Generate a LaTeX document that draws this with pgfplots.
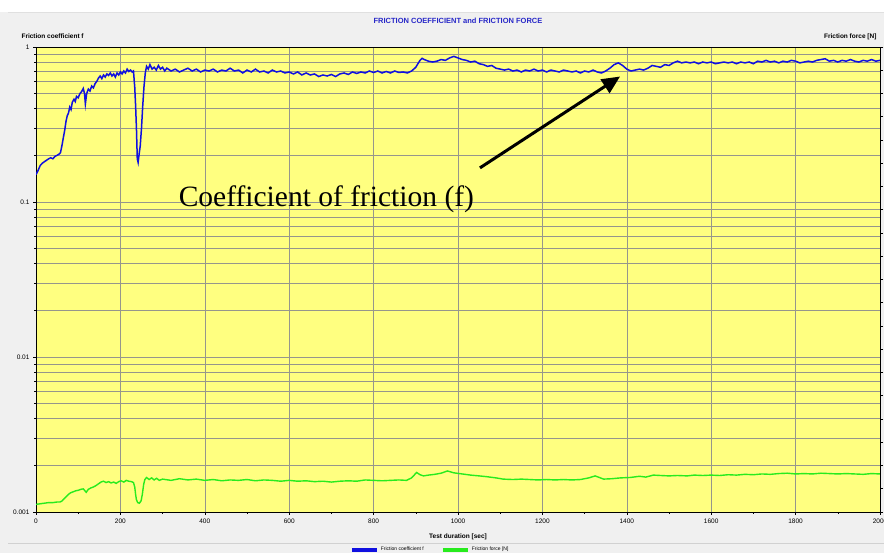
\documentclass[border=0pt]{standalone}
\usepackage{pgfplots}
\pgfplotsset{compat=1.18}
\usepackage{fontspec}
\setmainfont{Liberation Sans}
\newfontfamily\timesfont{Liberation Serif}
\usetikzlibrary{arrows.meta}

\definecolor{plotbg}{RGB}{255,255,128}
\definecolor{panel}{RGB}{240,240,240}
\definecolor{fblue}{RGB}{16,16,224}
\definecolor{fgreen}{RGB}{40,235,30}
\definecolor{titleblue}{RGB}{40,40,200}
\definecolor{gridc}{RGB}{150,150,140}

\begin{document}
\begin{tikzpicture}
% page = 884 x 553, axis box = 844 x 465
\path[use as bounding box] (-36pt,-41pt) rectangle (848pt,512pt);
\fill[panel] (-36pt,-41pt) rectangle (848pt,512pt);
\fill[white] (-36pt,500pt) rectangle (848pt,512pt);
\draw[black!12] (-28pt,500pt) -- (848pt,500pt);
\draw[black!18] (-28pt,-31pt) -- (848pt,-31pt);

\begin{axis}[
  at={(0pt,0pt)}, anchor=south west,
  scale only axis, width=844pt, height=465pt,
  xmin=0, xmax=2000,
  ymode=log, ymin=0.001, ymax=1,
  xtick={0,200,...,2000},
  minor xtick={100,300,...,1900},
  ytick={0.001,0.01,0.1,1},
  yticklabels={0.001,0.01,0.1,1},
  minor ytick={0.002,0.003,0.004,0.005,0.006,0.007,0.008,0.009,
               0.02,0.03,0.04,0.05,0.06,0.07,0.08,0.09,
               0.2,0.3,0.4,0.5,0.6,0.7,0.8,0.9},
  xtick pos=bottom, ytick pos=left,
  tick align=outside,
  major tick length=3pt, minor tick length=2pt,
  tick style={black, line width=0.6pt},
  xmajorgrids, ymajorgrids, yminorgrids,
  major grid style={gridc, line width=0.6pt},
  minor grid style={gridc, line width=0.6pt},
  axis line style={black, line width=0.8pt},
  axis background/.style={fill=plotbg},
  tick label style={font=\fontsize{6.5}{7}\selectfont},
  /pgf/number format/assume math mode=true,
  /pgf/number format/1000 sep={},
  title={FRICTION COEFFICIENT and FRICTION FORCE},
  title style={at={(0.5,1)}, anchor=base, yshift=17pt,
               font=\bfseries\fontsize{7.5}{8}\selectfont, text=titleblue},
  xlabel={Test duration [sec]},
  xlabel style={at={(0.5,0)}, anchor=base, yshift=-26pt,
                font=\bfseries\fontsize{6.5}{7}\selectfont},
  legend style={at={(0.467,-0.069)}, anchor=north, legend columns=2,
                draw=none, fill=none, font=\fontsize{5}{6}\selectfont,
                inner sep=1pt,
                /tikz/every even column/.append style={column sep=15pt}},
  legend cell align=left,
  legend image code/.code={\draw[#1, line width=4pt] (0pt,0pt) -- (25pt,0pt);},
]
\addplot[fblue, line width=1.5pt] coordinates {
(0,0.150) (5,0.160) (10,0.172) (15,0.178) (20,0.182) (25,0.186) (30,0.190)
(35,0.193) (40,0.190) (45,0.197) (50,0.200) (55,0.204) (58,0.208) (62,0.235)
(65,0.262) (68,0.290) (71,0.330) (74,0.360) (77,0.375) (80,0.410) (83,0.395)
(86,0.440) (90,0.460) (93,0.445) (96,0.480) (100,0.470) (104,0.500) (108,0.515)
(112,0.540) (115,0.500) (117,0.430) (120,0.500) (124,0.535) (128,0.520)
(132,0.560) (136,0.545) (140,0.580) (144,0.600) (148,0.630) (152,0.650)
(156,0.625) (160,0.660) (164,0.640) (168,0.670) (172,0.655) (176,0.680)
(180,0.650) (184,0.670) (188,0.640) (192,0.680) (196,0.660) (200,0.690)
(204,0.670) (208,0.700) (212,0.680) (216,0.720) (220,0.695) (224,0.710)
(228,0.690) (231,0.700) (234,0.550) (236,0.420) (238,0.300) (240,0.190)
(242,0.180) (244,0.200) (247,0.230) (250,0.300) (253,0.420) (256,0.560)
(259,0.680) (262,0.750) (266,0.720) (270,0.770) (275,0.720) (280,0.740)
(285,0.710) (290,0.760) (295,0.720) (300,0.740) (305,0.700) (310,0.730)
(320,0.700) (330,0.720) (340,0.690) (350,0.710) (360,0.730) (370,0.700)
(380,0.720) (390,0.690) (400,0.710) (410,0.700) (420,0.720) (430,0.690)
(440,0.710) (450,0.700) (460,0.730) (470,0.700) (480,0.710) (490,0.680)
(500,0.710) (510,0.690) (520,0.720) (530,0.690) (540,0.700) (550,0.680)
(560,0.710) (570,0.690) (580,0.700) (590,0.680) (600,0.690) (610,0.670)
(620,0.690) (630,0.660) (640,0.680) (650,0.660) (660,0.670) (670,0.645)
(680,0.660) (690,0.650) (700,0.665) (710,0.645) (720,0.670) (730,0.680)
(740,0.665) (750,0.690) (760,0.675) (770,0.690) (780,0.680) (790,0.700)
(800,0.685) (810,0.700) (820,0.680) (830,0.695) (840,0.680) (850,0.700)
(860,0.685) (870,0.690) (880,0.680) (890,0.700) (900,0.740) (905,0.780)
(910,0.820) (915,0.845) (920,0.830) (930,0.810) (940,0.800) (950,0.810)
(960,0.830) (970,0.820) (980,0.850) (990,0.870) (1000,0.850) (1010,0.830)
(1020,0.820) (1030,0.800) (1040,0.810) (1050,0.780) (1060,0.770) (1070,0.750)
(1080,0.760) (1090,0.730) (1100,0.720) (1110,0.710) (1120,0.720) (1130,0.700)
(1140,0.710) (1150,0.690) (1160,0.710) (1170,0.700) (1180,0.720) (1190,0.700)
(1200,0.710) (1210,0.690) (1220,0.710) (1230,0.700) (1240,0.690) (1250,0.710)
(1260,0.700) (1270,0.690) (1280,0.700) (1290,0.680) (1300,0.700) (1310,0.690)
(1320,0.710) (1330,0.690) (1340,0.680) (1350,0.700) (1360,0.730) (1370,0.770)
(1380,0.790) (1390,0.760) (1400,0.720) (1410,0.700) (1420,0.710) (1430,0.720)
(1440,0.710) (1450,0.730) (1460,0.760) (1470,0.750) (1480,0.740) (1490,0.770)
(1500,0.760) (1510,0.790) (1520,0.810) (1530,0.790) (1540,0.800) (1550,0.790)
(1560,0.800) (1570,0.780) (1580,0.800) (1590,0.790) (1600,0.800) (1610,0.780)
(1620,0.790) (1630,0.800) (1640,0.790) (1650,0.800) (1660,0.780) (1670,0.800)
(1680,0.790) (1690,0.800) (1700,0.780) (1710,0.810) (1720,0.800) (1730,0.820)
(1740,0.800) (1750,0.810) (1760,0.790) (1770,0.810) (1780,0.800) (1790,0.820)
(1800,0.810) (1810,0.790) (1820,0.800) (1830,0.810) (1840,0.800) (1850,0.820)
(1860,0.830) (1870,0.840) (1880,0.810) (1890,0.820) (1900,0.800) (1910,0.820)
(1920,0.810) (1930,0.830) (1940,0.810) (1950,0.800) (1960,0.820) (1970,0.810)
(1980,0.830) (1990,0.810) (2000,0.820)
};
\addlegendentry{Friction coefficient f}
\addplot[fgreen, line width=1.4pt] coordinates {
(0,0.00112) (10,0.00113) (20,0.00114) (30,0.00115) (40,0.00115) (50,0.00116)
(57,0.00116) (62,0.00118) (67,0.00122) (72,0.00126) (77,0.00130) (82,0.00133)
(88,0.00135) (94,0.00137) (100,0.00138) (106,0.00140) (112,0.00141)
(116,0.00137) (119,0.00134) (124,0.00140) (130,0.00143) (136,0.00145)
(142,0.00148) (148,0.00152) (154,0.00156) (160,0.00158) (166,0.00155)
(172,0.00157) (178,0.00154) (184,0.00156) (190,0.00153) (196,0.00157)
(202,0.00159) (208,0.00156) (214,0.00160) (220,0.00158) (226,0.00157)
(231,0.00155) (234,0.00145) (236,0.00130) (238,0.00120) (241,0.00115)
(245,0.00114) (249,0.00118) (252,0.00130) (255,0.00150) (258,0.00162)
(262,0.00167) (268,0.00162) (274,0.00166) (280,0.00161) (286,0.00165)
(292,0.00160) (300,0.00163) (320,0.00160) (340,0.00164) (360,0.00161)
(380,0.00163) (400,0.00160) (420,0.00162) (440,0.00159) (460,0.00161)
(480,0.00160) (500,0.00162) (520,0.00159) (540,0.00161) (560,0.00160)
(580,0.00158) (600,0.00160) (620,0.00158) (640,0.00159) (660,0.00157)
(680,0.00158) (700,0.00156) (720,0.00158) (740,0.00159) (760,0.00158)
(780,0.00161) (800,0.00160) (820,0.00159) (840,0.00160) (860,0.00161)
(878,0.00160) (890,0.00166) (902,0.00180) (910,0.00174) (918,0.00171)
(930,0.00173) (945,0.00175) (960,0.00178) (975,0.00184) (990,0.00179)
(1010,0.00176) (1030,0.00173) (1050,0.00171) (1068,0.00169) (1090,0.00166)
(1107,0.00163) (1130,0.00162) (1150,0.00163) (1170,0.00162) (1190,0.00161)
(1210,0.00162) (1230,0.00161) (1250,0.00162) (1270,0.00161) (1290,0.00162)
(1310,0.00166) (1325,0.00171) (1345,0.00163) (1365,0.00164) (1385,0.00166)
(1408,0.00167) (1430,0.00170) (1445,0.00168) (1463,0.00173) (1480,0.00172)
(1500,0.00171) (1520,0.00172) (1543,0.00171) (1560,0.00173) (1580,0.00172)
(1600,0.00173) (1620,0.00172) (1640,0.00174) (1660,0.00173) (1680,0.00175)
(1700,0.00174) (1720,0.00176) (1740,0.00175) (1760,0.00177) (1780,0.00178)
(1800,0.00176) (1820,0.00177) (1840,0.00176) (1860,0.00178) (1880,0.00177)
(1900,0.00176) (1920,0.00177) (1940,0.00176) (1960,0.00175) (1980,0.00177)
(2000,0.00176)
};
\addlegendentry{Friction force [N]}
\node[anchor=base west, font=\timesfont\fontsize{29.5}{32}\selectfont]
  at (axis cs:330,0.0929) {Coefficient of friction (f)};
\draw[black, line width=3pt, -{Triangle[length=18pt, width=16pt]}]
  (axis cs:1052,0.166) -- (axis cs:1384,0.645);
\end{axis}

% right axis: friction force ticks
\begin{axis}[
  at={(0pt,0pt)}, anchor=south west,
  scale only axis, width=844pt, height=465pt,
  xmin=0, xmax=2000, ymin=0, ymax=20,
  axis x line=none, axis y line*=right,
  ytick={0,1,...,20}, yticklabels={},
  tick align=outside, major tick length=3pt,
  tick style={black, line width=0.6pt},
  axis line style={black, line width=0.8pt},
]
\end{axis}

\node[anchor=base west, font=\bfseries\fontsize{6.5}{7}\selectfont]
  at (-18pt,473pt) {Friction coefficient f};
\node[anchor=base east, font=\bfseries\fontsize{6.5}{7}\selectfont]
  at (844pt,473pt) {Friction force [N]};
\end{tikzpicture}
\end{document}
